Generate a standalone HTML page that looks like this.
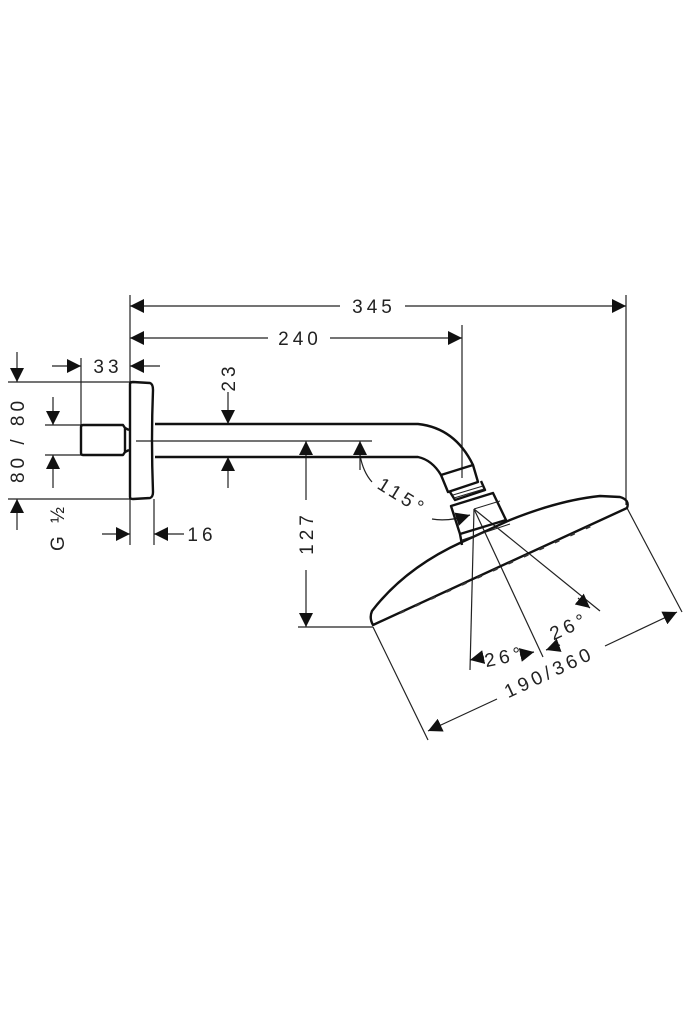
<!DOCTYPE html>
<html><head><style>html,body{margin:0;padding:0;background:#fff}svg{display:block}
text{font-family:"Liberation Sans",sans-serif;font-size:19px;fill:#222;letter-spacing:4px;text-anchor:middle}</style></head>
<body>
<svg width="686" height="1024" viewBox="0 0 686 1024" xmlns="http://www.w3.org/2000/svg">
<defs>
<marker id="a" viewBox="0 0 10 10" refX="10" refY="5" markerWidth="14" markerHeight="14" markerUnits="userSpaceOnUse" orient="auto"><path d="M0,0 L10,5 L0,10 Z" fill="#111"/></marker>
</defs>
<g stroke="#222" stroke-width="1.2" fill="none">
<line x1="130" y1="295" x2="130" y2="545"/>
<line x1="626" y1="295" x2="626" y2="505"/>
<line x1="462" y1="325" x2="462" y2="478"/>
<line x1="81" y1="358" x2="81" y2="425"/>
<line x1="154" y1="499" x2="154" y2="545"/>
<line x1="8" y1="382" x2="130" y2="382"/>
<line x1="8" y1="499" x2="130" y2="499"/>
<line x1="45" y1="425" x2="81" y2="425"/>
<line x1="45" y1="455" x2="81" y2="455"/>
<line x1="136" y1="441" x2="372" y2="441"/>
<line x1="298" y1="627" x2="373" y2="627"/>
<line x1="373" y1="627" x2="428" y2="740"/>
<line x1="627" y1="508" x2="682" y2="612"/>
<line x1="340" y1="306" x2="130" y2="306" marker-end="url(#a)"/>
<line x1="405" y1="306" x2="626" y2="306" marker-end="url(#a)"/>
<line x1="268" y1="338" x2="130" y2="338" marker-end="url(#a)"/>
<line x1="330" y1="338" x2="462" y2="338" marker-end="url(#a)"/>
<line x1="52" y1="366" x2="81" y2="366" marker-end="url(#a)"/>
<line x1="160" y1="366" x2="130" y2="366" marker-end="url(#a)"/>
<line x1="102" y1="534" x2="130" y2="534" marker-end="url(#a)"/>
<line x1="184" y1="534" x2="154" y2="534" marker-end="url(#a)"/>
<line x1="17" y1="352" x2="17" y2="382" marker-end="url(#a)"/>
<line x1="17" y1="530" x2="17" y2="499" marker-end="url(#a)"/>
<line x1="53" y1="397" x2="53" y2="425" marker-end="url(#a)"/>
<line x1="53" y1="488" x2="53" y2="455" marker-end="url(#a)"/>
<line x1="228" y1="392" x2="228" y2="424" marker-end="url(#a)"/>
<line x1="228" y1="488" x2="228" y2="457" marker-end="url(#a)"/>
<line x1="306" y1="500" x2="306" y2="441" marker-end="url(#a)"/>
<line x1="306" y1="570" x2="306" y2="627" marker-end="url(#a)"/>
<line x1="360" y1="470" x2="360" y2="441" marker-end="url(#a)"/>
<path d="M360,455 Q363,472 372,482"/>
<path d="M432,519 Q448,522 470,515" marker-end="url(#a)"/>
<line x1="497" y1="699" x2="428" y2="731" marker-end="url(#a)"/>
<line x1="605" y1="646" x2="677" y2="612" marker-end="url(#a)"/>
<line x1="474" y1="509" x2="470" y2="670"/>
<line x1="474" y1="509" x2="543" y2="657"/>
<line x1="474" y1="509" x2="600" y2="611"/>
<line x1="484" y1="657" x2="470" y2="660" marker-end="url(#a)"/>
<line x1="520" y1="655" x2="534" y2="652" marker-end="url(#a)"/>
<line x1="560" y1="645" x2="546" y2="650" marker-end="url(#a)"/>
<line x1="578" y1="598" x2="590" y2="608" marker-end="url(#a)"/>
</g>
<g stroke="#111" stroke-width="2.4" fill="none" stroke-linejoin="round">
<path d="M130,384 Q130,382 133,382 L150,383 Q153,384 153,390 Q151,440 153,492 Q153,497 150,498 L133,499 Q130,499 130,497 Z"/>
<path d="M83,425 L123,425 L125,428 L125,452 L123,455 L83,455 Q81,455 81,453 L81,427 Q81,425 83,425 Z"/>
<line x1="125" y1="428" x2="129" y2="430"/><line x1="125" y1="452" x2="129" y2="450"/>
<path d="M155,424 L418,424 Q455,428 473,465"/>
<path d="M155,457 L418,457 Q432,460 441,475"/>
<path d="M441,475 L473,465 L478,482 L448,492 Z"/>
<path d="M450,492 L455,500 L485,490 L481,481"/>
<path d="M451,506 L493,493 L506,520 L460,534 Z"/>
<line x1="460" y1="534" x2="462" y2="545"/>
<path d="M373,625 L627,508 Q630,500 620,497 L600,496 Q560,500 510,520 L462,542 Q405,568 372,611 Q369,618 373,625 Z"/>
</g>
<g stroke="#222" stroke-width="1" fill="none">
<line x1="453" y1="495" x2="483" y2="486"/><line x1="454" y1="498" x2="484" y2="489"/>
<line x1="474" y1="509" x2="500" y2="501"/>
<line x1="462" y1="540" x2="510" y2="524"/>
</g>
<g stroke="#333" stroke-width="2" stroke-dasharray="5 12">
<line x1="400" y1="613" x2="600" y2="522"/>
</g>
<text x="374" y="313">345</text>
<text x="300" y="345">240</text>
<text x="108" y="373">33</text>
<text x="202" y="541">16</text>
<text transform="translate(235,377) rotate(-90)">23</text>
<text transform="translate(313,533) rotate(-90)">127</text>
<text transform="translate(24,440) rotate(-90)">80 / 80</text>
<text transform="translate(64,527) rotate(-90)">G ½</text>
<text transform="translate(399,502) rotate(32)">115°</text>
<text transform="translate(506,663) rotate(-12)">26°</text>
<text transform="translate(572,632) rotate(-25)">26°</text>
<text transform="translate(552,678) rotate(-25)">190/360</text>
</svg>
</body></html>
